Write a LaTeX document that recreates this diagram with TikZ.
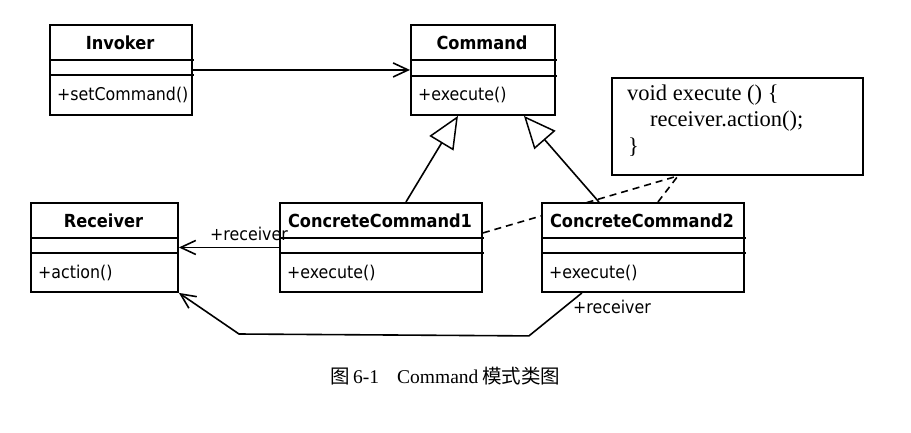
\documentclass[tikz,border=0pt]{standalone}
\usepackage{fontspec}
\usetikzlibrary{arrows.meta}
\newfontfamily\umlfont{DejaVu Sans Condensed}
\newfontfamily\notefont{Liberation Serif}
\newfontfamily\cjkfont{Noto Sans CJK SC}
\tikzset{
  umlbox/.style={draw, line width=1.9pt, fill=white, anchor=north west, inner sep=0pt},
  rowline/.style={line width=1.9pt},
  umltitle/.style={font=\umlfont\bfseries\fontsize{18}{20}\selectfont, anchor=base, inner sep=0pt},
  umlmethod/.style={font=\umlfont\fontsize{17.6}{20}\selectfont, anchor=base west, inner sep=0pt},
  rolelabel/.style={font=\umlfont\fontsize{17.6}{20}\selectfont, anchor=west, inner sep=0pt},
  assoc/.style={line width=1.6pt, -{Straight Barb[length=15pt,width=14pt,line width=1.6pt]}},
  gen/.style={line width=1.6pt, -{Triangle[length=32pt,width=28pt,fill=white,line width=1.5pt]}},
  notelink/.style={line width=1.6pt, dash pattern=on 7pt off 5pt},
  notetext/.style={font=\notefont\fontsize{22.5}{26}\selectfont, anchor=base west, inner sep=0pt},
  captext/.style={font=\notefont\fontsize{19.5}{22}\selectfont, anchor=base west, inner sep=0pt},
  capcjk/.style={font=\cjkfont\fontsize{19.5}{22}\selectfont, anchor=base west, inner sep=0pt},
}
\begin{document}
\begin{tikzpicture}[x=1pt,y=-1pt]
\fill[white] (0,0) rectangle (911,432);
\useasboundingbox (0,0) rectangle (911,432);

% note box
\node[umlbox, minimum width=251pt, minimum height=97pt] (note) at (611,77) {};
\coordinate (nt) at ([xshift=67pt]note.south west);

% boxes
\node[umlbox, minimum width=142pt, minimum height=90pt] (inv) at (49,24) {};
\node[umlbox, minimum width=144pt, minimum height=90pt] (cmd) at (410,24) {};
\node[umlbox, minimum width=147pt, minimum height=89pt] (rcv) at (30,202) {};
\node[umlbox, minimum width=202pt, minimum height=89pt] (cc1) at (279,202) {};

% dashed link from ConcreteCommand1 to the note (passes behind ConcreteCommand2)
\draw[notelink] ([yshift=14.5pt]cc1.east) -- (nt);

\node[umlbox, minimum width=202pt, minimum height=89pt] (cc2) at (541,202) {};

% compartment lines
\draw[rowline] (49,60) -- (193.5,60) (49,75) -- (193.5,75);
\draw[rowline] (410,60) -- (556.5,60) (410,76) -- (556.5,76);
\draw[rowline] (30,238) -- (177,238) (30,253) -- (177,253);
\draw[rowline] (279,238) -- (483.5,238) (279,253) -- (483.5,253);
\draw[rowline] (541,238) -- (745.5,238) (541,253) -- (745.5,253);

% titles
\node[umltitle] (tinv) at (120,49) {Invoker};
\node[umltitle] (tcmd) at (482,49) {Command};
\node[umltitle] (trcv) at (103.5,227) {Receiver};
\node[umltitle] (tcc1) at (380,227) {ConcreteCommand1};
\node[umltitle] (tcc2) at (642,227) {ConcreteCommand2};

% methods
\node[umlmethod] (minv) at (57,100) {+setCommand()};
\node[umlmethod] (mcmd) at (418,100) {+execute()};
\node[umlmethod] (mrcv) at (38,278) {+action()};
\node[umlmethod] (mcc1) at (287,278) {+execute()};
\node[umlmethod] (mcc2) at (549,278) {+execute()};

% connectors
\draw[assoc] (inv.east) -- (cmd.west);
\draw[assoc] (cc1.west) -- (rcv.east);
\draw[gen] ([xshift=25pt]cc1.north) -- ([xshift=-25pt]cmd.south);
\draw[gen] ([xshift=-44pt]cc2.north) -- ([xshift=41pt]cmd.south);
\draw[notelink] ([xshift=15pt]cc2.north) -- (nt);
\draw[assoc] ([xshift=-61pt]cc2.south) -- ++(-53,43) -- (239,334) -- (rcv.south east);

% role labels
\node[rolelabel] (r1) at (210,234) {+receiver};
\node[rolelabel] (r2) at (573,307) {+receiver};

% note text
\node[notetext] (n1) at (627,100) {void execute () \{};
\node[notetext] (n2) at (650,126.5) {receiver.action();};
\node[notetext] (n3) at (628,153) {\}};

% caption
\node[capcjk] (c1) at (330,383) {图};
\node[captext] (c2) at (353,383) {6-1};
\node[captext] (c3) at (397,383) {Command};
\node[capcjk] (c4) at (482,383) {模式类图};
\end{tikzpicture}
\end{document}
